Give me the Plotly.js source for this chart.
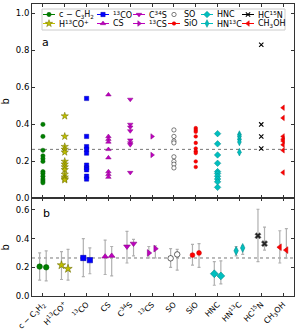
<!DOCTYPE html>
<html>
<head>
<meta charset="utf-8">
<script src="https://cdn.plot.ly/plotly-3.0.1.min.js"></script>
<style>body{margin:0;background:#fff}</style>
</head>
<body>
<div id="chart" style="width:299px;height:332px"></div>
<script>
// ---------- data ----------
const species = ['c-C3H2','H13CO+','13CO','CS','C34S','13CS','SO','SiO','HNC','HN13C','HC15N','CH3OH'];
const tickLabels = ['c − C<sub>3</sub>H<sub>2</sub>','H<sup>13</sup>CO<sup>+</sup>','<sup>13</sup>CO','CS','C<sup>34</sup>S',
  '<sup>13</sup>CS','SO','SiO','HNC','HN<sup>13</sup>C','HC<sup>15</sup>N','CH<sub>3</sub>OH'];

// panel a : individual b values
const aC3H2  = [0.40, 0.335, 0.26, 0.23, 0.215, 0.20, 0.145, 0.135, 0.12, 0.105, 0.095, 0.085];
const aH13COp= [0.445, 0.335, 0.28, 0.265, 0.25, 0.20, 0.185, 0.17, 0.155, 0.13, 0.115, 0.105, 0.10];
const a13CO  = [0.54, 0.335, 0.28, 0.265, 0.245, 0.18, 0.165, 0.155, 0.12, 0.105];
const aCS    = [0.56, 0.335, 0.32, 0.305, 0.265, 0.22, 0.145, 0.13, 0.115];
const aC34S  = [0.535, 0.40, 0.385, 0.365, 0.315, 0.30, 0.29, 0.14];
const a13CS  = [0.335, 0.235];
const aSO    = [0.37, 0.335, 0.31, 0.30, 0.225, 0.20, 0.185, 0.165];
const aSiO   = [0.38, 0.37, 0.36, 0.335, 0.30, 0.27, 0.255, 0.245, 0.20, 0.17];
const aHNC   = [0.35, 0.295, 0.235, 0.19, 0.145, 0.135, 0.12, 0.105, 0.09, 0.06];
const aHN13C = [0.345, 0.335, 0.32, 0.305, 0.25];
const aHC15N = [0.83, 0.40, 0.335, 0.27];
const aCH3OH = [0.49, 0.435, 0.335, 0.32, 0.31, 0.29, 0.26, 0.14];
const panelA = [aC3H2, aH13COp, a13CO, aCS, aC34S, a13CS, aSO, aSiO, aHNC, aHN13C, aHC15N, aCH3OH];

// panel b : two fitted values per species with ranges (upper / lower)
const bFit  = [0.205,0.20, 0.215,0.19, 0.265,0.25, 0.275,0.28, 0.345,0.365, 0.30,0.33, 0.263,0.29, 0.285,0.30, 0.155,0.14, 0.315,0.335, 0.42,0.365, 0.34,0.32];
const bHigh = [0.30,0.315, 0.31,0.325, 0.40,0.335, 0.39,0.345, 0.45,0.395, 0.345,0.35, 0.33,0.325, 0.36,0.365, 0.24,0.245, 0.345,0.35, 0.605,0.48, 0.455,0.47];
const bLow  = [0.11,0.105, 0.115,0.11, 0.135,0.155, 0.15,0.14, 0.23,0.28, 0.265,0.265, 0.20,0.18, 0.215,0.20, 0.075,0.085, 0.28,0.29, 0.24,0.32, 0.23,0.265];
const refLine = 0.265;

// ---------- styles ----------
const styles = [
  {symbol:'circle',        color:'#008000', edge:'#006000', sa:4.3, sb:5.5, keyLine:true},
  {symbol:'star',          color:'#bfbf00', edge:'#6f6f00', sa:5.5, sb:6.3, keyLine:true},
  {symbol:'square',        color:'#0000ff', edge:'#0000b0', sa:4.3, sb:5.3, keyLine:true},
  {symbol:'triangle-up',   color:'#bf00bf', edge:'#8a008a', sa:4.8, sb:5.8, keyLine:true},
  {symbol:'triangle-down', color:'#bf00bf', edge:'#8a008a', sa:4.8, sb:5.8, keyLine:true},
  {symbol:'triangle-right',color:'#bf00bf', edge:'#8a008a', sa:4.8, sb:5.8, keyLine:true},
  {symbol:'circle',        color:'#ffffff', edge:'#000000', sa:4.3, sb:5.5, keyLine:false},
  {symbol:'circle',        color:'#ff0000', edge:'#cc0000', sa:3.6, sb:4.8, keyLine:true},
  {symbol:'diamond',       color:'#00bfbf', edge:'#008a8a', sa:5, sb:6, keyLine:true},
  {symbol:'diamond-tall',  color:'#00bfbf', edge:'#008a8a', sa:5.5, sb:6.3, keyLine:true},
  {symbol:'x-thin',        color:'#000000', edge:'#000000', sa:4.3, sb:5.5, keyLine:true},
  {symbol:'triangle-left', color:'#ff0000', edge:'#cc0000', sa:4.8, sb:5.8, keyLine:true}
];

const traces = [];
const pairOffset = 0.15;

// panel a traces
panelA.forEach((vals, i) => {
  const s = styles[i];
  traces.push({
    type:'scatter', mode:'markers', xaxis:'x', yaxis:'y', showlegend:false, name:species[i],
    x: vals.map(() => i), y: vals,
    marker:{symbol:s.symbol, size:s.sa, color:s.color,
            line:{color:s.edge, width: s.symbol==='x-thin' ? 1.1 : 0.5}}
  });
});

// panel b traces
species.forEach((name, i) => {
  const s = styles[i];
  const ys = [bFit[2*i], bFit[2*i+1]];
  const hi = [bHigh[2*i], bHigh[2*i+1]];
  const lo = [bLow[2*i], bLow[2*i+1]];
  const xs = [i - pairOffset, i + pairOffset];
  const sym = s.symbol === 'x-thin' ? 'x' : s.symbol;
  traces.push({
    type:'scatter', mode:'markers', xaxis:'x2', yaxis:'y2', showlegend:false, name:name,
    x: xs, y: ys,
    error_y:{type:'data', symmetric:false, array: hi.map((h,k)=>h-ys[k]), arrayminus: lo.map((l,k)=>ys[k]-l),
             color:'#b0b0b0', thickness:1.2, width:1.5},
    marker:{symbol:sym, size:s.sb, color: s.symbol==='x-thin' ? '#222' : s.color,
            line:{color: s.symbol==='x-thin' ? '#777' : s.edge, width:0.6}}
  });
});

// legend keys (drawn on an overlay axis measured in pixels of the upper panel)
const keyCols = [11, 65, 101, 136, 169, 210];
const keyRows = [10.5, 19.5];
const keyW = 12;
const annotations = [];
species.forEach((name, i) => {
  const s = styles[i];
  const c = Math.floor(i/2), r = i % 2;
  const x0 = keyCols[c], y0 = keyRows[r];
  if (s.keyLine) {
    traces.push({type:'scatter', mode:'lines', xaxis:'x3', yaxis:'y3', showlegend:false, hoverinfo:'skip',
      x:[x0, x0+keyW], y:[y0, y0], line:{color:s.color, width:1.2}});
  }
  traces.push({type:'scatter', mode:'markers', xaxis:'x3', yaxis:'y3', showlegend:false, hoverinfo:'skip',
    x:[x0+keyW/2], y:[y0],
    marker:{symbol:s.symbol, size:s.sa, color:s.color, line:{color:s.edge, width: s.symbol==='x-thin'?1.1:0.5}}});
  annotations.push({xref:'x3', yref:'y3', x:x0+keyW+1.5, y:y0, text:tickLabels[i], showarrow:false,
    xanchor:'left', yanchor:'middle', font:{size:8, color:'#000'}});
});

annotations.push({xref:'x3', yref:'y3', x:13, y:39, text:'a', showarrow:false, xanchor:'center', yanchor:'middle',
  font:{size:11, color:'#000'}});
annotations.push({xref:'paper', yref:'paper', x:0.057, y:0.281, text:'b', showarrow:false, xanchor:'center', yanchor:'middle',
  font:{size:11, color:'#000'}});

const axCommon = {showline:true, linecolor:'#333', linewidth:1, mirror:'ticks', ticks:'inside', ticklen:3,
  tickcolor:'#333', showgrid:false, zeroline:false};
const catTicks = species.map((_, i) => i);

const layout = {
  width:299, height:332,
  margin:{l:32, r:5, t:4, b:36},
  paper_bgcolor:'#fff', plot_bgcolor:'#fff',
  font:{family:'DejaVu Sans', size:8.5, color:'#000'},
  xaxis:Object.assign({}, axCommon, {domain:[0,1], anchor:'y', range:[-0.5,11.5], tickvals:catTicks, showticklabels:false}),
  yaxis:Object.assign({}, axCommon, {domain:[0.334,1], anchor:'x', range:[0,1.05], tickvals:[0,0.2,0.4,0.6,0.8,1.0],
    tickformat:'.1f', title:{text:'b', standoff:4, font:{size:10}}}),
  xaxis2:Object.assign({}, axCommon, {domain:[0,1], anchor:'y2', range:[-0.5,11.5], tickvals:catTicks, ticktext:tickLabels,
    tickangle:-45, tickfont:{size:7.8}}),
  yaxis2:Object.assign({}, axCommon, {domain:[0,0.334], anchor:'x2', range:[0,0.68], tickvals:[0,0.2,0.4,0.6],
    tickformat:'.1f', title:{text:'b', standoff:4, font:{size:10}}}),
  xaxis3:{overlaying:'x', anchor:'y3', range:[0,262], visible:false, showticklabels:false, fixedrange:true},
  yaxis3:{overlaying:'y', anchor:'x3', range:[194.5,0], visible:false, showticklabels:false, fixedrange:true},
  shapes:[
    {type:'line', xref:'x domain', yref:'y', x0:0, x1:1, y0:refLine, y1:refLine, line:{color:'#777', width:1, dash:'dot'}, layer:'below'},
    {type:'line', xref:'x2 domain', yref:'y2', x0:0, x1:1, y0:refLine, y1:refLine, line:{color:'#777', width:1, dash:'dot'}, layer:'below'},
    {type:'rect', xref:'x3', yref:'y3', x0:10, x1:253, y0:5, y1:26, fillcolor:'rgba(255,255,255,0.85)',
     line:{color:'#cccccc', width:1}, layer:'below'}
  ],
  annotations: annotations,
  showlegend:false
};

Plotly.newPlot('chart', traces, layout, {displayModeBar:false, staticPlot:true});
</script>
</body>
</html>
